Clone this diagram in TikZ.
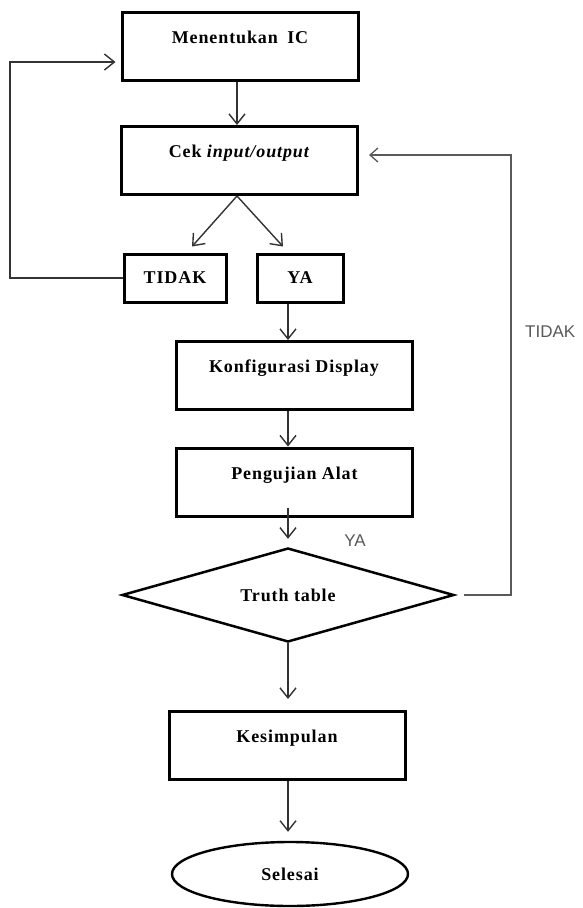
\documentclass[tikz,border=0pt]{standalone}
\usepackage{fontspec}
\setmainfont{Liberation Serif}
\newfontfamily\labfont{Liberation Sans}
\usetikzlibrary{shapes.geometric,arrows.meta}
\begin{document}
\begin{tikzpicture}[x=1pt,y=-1pt,
  boxfont/.style={font=\fontsize{18}{20}\selectfont\bfseries\addfontfeature{LetterSpace=5}},
  procbox/.style={draw=black, line width=3pt, rectangle, inner sep=0pt,
    minimum width=236pt, text height=31pt, text depth=37pt, boxfont},
  smallbox/.style={draw=black, line width=3pt, rectangle, inner sep=0pt,
    minimum height=48pt, boxfont},
  decbox/.style={draw=black, line width=2.5pt, diamond, aspect=3.5, inner sep=0pt,
    minimum width=332pt, minimum height=94pt, boxfont},
  endbox/.style={draw=black, line width=2.4pt, ellipse, inner sep=0pt,
    minimum width=236pt, minimum height=64pt, boxfont},
  conn/.style={draw=black!80, line width=1.4pt,
    -{Straight Barb[length=10pt,width=16pt]}},
  loopline/.style={draw=black!65, line width=1.3pt,
    -{Straight Barb[length=8pt,width=14pt]}},
  lab/.style={font=\labfont\fontsize{17}{19}\selectfont, text=black!65, inner sep=0pt}
]
\fill[white] (0,0) rectangle (582,908);
\useasboundingbox (0,0) rectangle (582,908);

\coordinate (axU) at (237,0);
\coordinate (ax) at (288,0);
\coordinate (lx) at (10,62);
\coordinate (rx) at (511,595);

\node[procbox] (M) at (240,46) {Menentukan\hspace{4pt} IC};
\node[procbox] (C) at (239.5,160.5) {Cek \textit{input/output}};
\node[smallbox, minimum width=102pt] (T) at (175,278) {TIDAK};
\node[smallbox, minimum width=86pt] (Y) at (300,278) {YA};
\node[procbox] (K) at (294,375.5) {Konfigurasi Display};
\node[procbox] (P) at (294.5,482) {Pengujian Alat};
\node[decbox] (D) at (288,595) {Truth table};
\node[procbox] (S) at (287,745.5) {Kesimpulan};
\node[endbox] (E) at (290,874) {Selesai};

\node[lab, anchor=west] (lt) at (525,332) {TIDAK};
\node[lab] (ly) at (355,541) {YA};

\draw[conn] (M.south -| axU) -- (C.north -| axU);
\draw[conn] (C.south -| axU) -- ([shift={(17,-6)}]T.north);
\draw[conn] (C.south -| axU) -- ([shift={(-17,-6)}]Y.north);
\draw[conn] (T.west) -| (lx) -- ([shift={(-5,16)}]M.west);
\draw[conn] (Y.south -| ax) -- (K.north -| ax);
\draw[conn] (K.south -| ax) -- (P.north -| ax);
\draw[conn] ([yshift=10pt]P.south -| ax) -- ([yshift=8pt]D.north);
\draw[conn, shorten >=11pt] (D.south) -- (S.north -| ax);
\draw[conn, shorten >=9pt] (S.south -| ax) -- (E.north -| ax);
\draw[loopline] ([xshift=9pt]D.east) -- (rx) |- ([shift={(10,-5.5)}]C.east);
\end{tikzpicture}
\end{document}
